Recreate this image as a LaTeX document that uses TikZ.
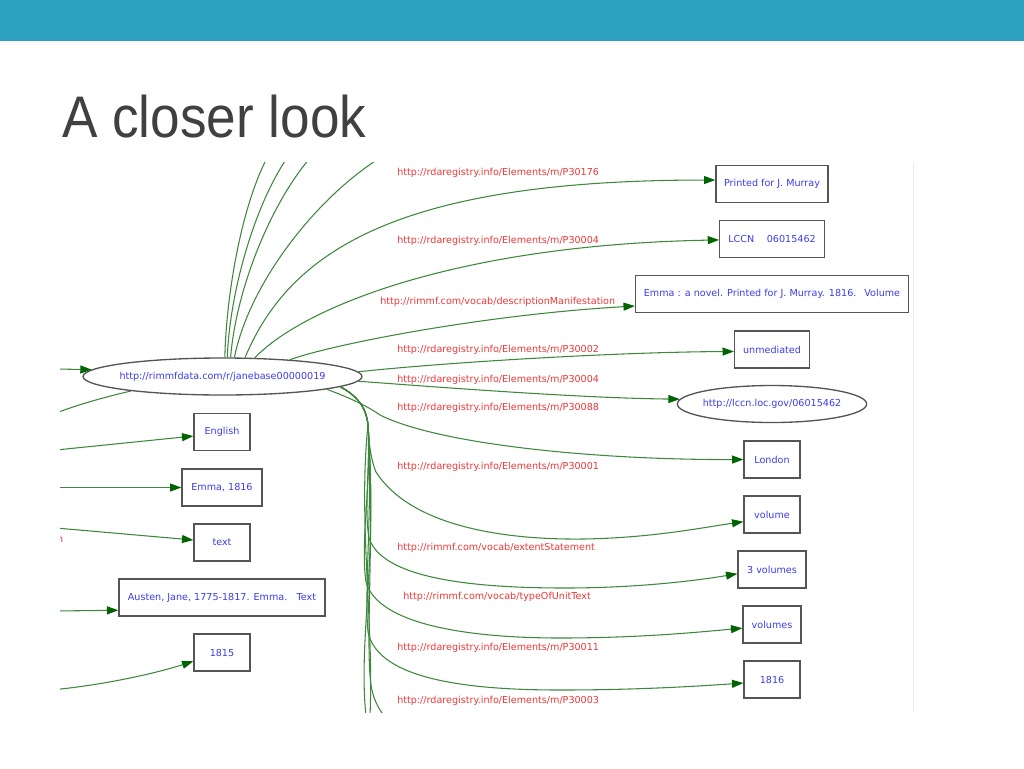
\documentclass[tikz,border=0pt]{standalone}
\usepackage{fontspec}
\newfontfamily\titlefont{Liberation Sans}
\newfontfamily\gfont{DejaVu Sans}
\usetikzlibrary{shapes.geometric,arrows.meta}
\definecolor{headbar}{RGB}{43,161,191}
\definecolor{titlegray}{RGB}{64,64,64}
\definecolor{edgegreen}{RGB}{62,136,62}
\definecolor{tipgreen}{RGB}{0,100,0}
\definecolor{nodeblue}{RGB}{60,60,235}
\definecolor{labelred}{RGB}{235,55,55}
\definecolor{bordergray}{RGB}{85,85,85}
\definecolor{framegray}{RGB}{236,236,236}
\begin{document}
\begin{tikzpicture}[x=0.75pt,y=-0.75pt,
  gtext/.style={font=\gfont\fontsize{7.2}{8}\selectfont},
  litbox/.style={gtext, draw=bordergray, line width=1pt, fill=white, rectangle, minimum height=27.75pt, inner sep=0pt, text=nodeblue},
  urinode/.style={gtext, draw=bordergray, line width=1pt, fill=white, ellipse, inner sep=0pt, minimum height=27.75pt, text=nodeblue},
  prop/.style={gtext, anchor=west, inner sep=0pt, text=labelred},
  rel/.style={draw=edgegreen, line width=0.8pt},
  relarrow/.style={rel, -{Triangle[length=8.5pt,width=6pt,color=tipgreen]}},
]
\useasboundingbox (0,0) rectangle (1024,768);
\fill[headbar] (0,0) rectangle (1024,40.5);
\node[anchor=base west, inner sep=0pt, text=titlegray] (title) at (62,137)
  {\scalebox{0.905}[1]{\titlefont\fontsize{44}{44}\selectfont A closer look}};

\begin{scope}
\clip (60,162) rectangle (913,712);
% nodes
\node[urinode, minimum width=209.25pt] (main) at (222.5,376.5) {\makebox[0pt]{http://rimmfdata.com/r/janebase00000019}};
\node[litbox, minimum width=84pt] (pr) at (772,184) {Printed for J. Murray};
\node[litbox, minimum width=78.4pt] (lccn) at (772,239) {LCCN\hspace{9.5pt}06015462};
\node[litbox, minimum width=204.75pt] (emma) at (772,294) {Emma : a novel. Printed for J. Murray. 1816.\hspace{6pt}Volume};
\node[litbox, minimum width=56.25pt] (unmed) at (772,349.5) {unmediated};
\node[urinode, minimum width=142pt] (lccnuri) at (772,404) {\makebox[0pt]{http://lccn.loc.gov/06015462}};
\node[litbox, minimum width=42pt] (london) at (772,459.5) {London};
\node[litbox, minimum width=42pt] (volume) at (772,514.5) {volume};
\node[litbox, minimum width=51pt] (threevol) at (772,569.5) {3 volumes};
\node[litbox, minimum width=43.5pt] (volumes) at (772,624.5) {volumes};
\node[litbox, minimum width=42pt] (y1816) at (772,679.5) {1816};
\node[litbox, minimum width=42pt] (english) at (222,432) {English};
\node[litbox, minimum width=60pt] (emma1816) at (222,487.5) {Emma, 1816};
\node[litbox, minimum width=42pt] (text) at (222,542.5) {text};
\node[litbox, minimum width=154.5pt] (austen) at (222,597.5) {Austen, Jane, 1775-1817. Emma.\hspace{7pt}Text};
\node[litbox, minimum width=42pt] (y1815) at (222,652.5) {1815};

% property labels
\node[prop] (p1) at (397,173) {http://rdaregistry.info/Elements/m/P30176};
\node[prop] (p2) at (397,241) {http://rdaregistry.info/Elements/m/P30004};
\node[prop] (p3) at (380,302) {http://rimmf.com/vocab/descriptionManifestation};
\node[prop] (p4) at (397,350) {http://rdaregistry.info/Elements/m/P30002};
\node[prop] (p5) at (397,380) {http://rdaregistry.info/Elements/m/P30004};
\node[prop] (p6) at (397,408) {http://rdaregistry.info/Elements/m/P30088};
\node[prop] (p7) at (397,467) {http://rdaregistry.info/Elements/m/P30001};
\node[prop] (p8) at (397,548) {http://rimmf.com/vocab/extentStatement};
\node[prop] (p9) at (403,597) {http://rimmf.com/vocab/typeOfUnitText};
\node[prop] (p10) at (397,648) {http://rdaregistry.info/Elements/m/P30011};
\node[prop] (p11) at (397,701) {http://rdaregistry.info/Elements/m/P30003};
\node[prop, anchor=east] (p12) at (63.5,540) {n};

% free ends
\coordinate (ta) at (267,158);
\coordinate (tb) at (287,158);
\coordinate (tc) at (310,158);
\coordinate (td) at (380,158);
\coordinate (bb1) at (366,716);
\coordinate (bb2) at (370,716);
\coordinate (bb3) at (384,716);
\coordinate (l0) at (56,369);
\coordinate (l1) at (56,413);
\coordinate (l2) at (56,450);
\coordinate (l3) at (56,487.5);
\coordinate (l4) at (56,528);
\coordinate (l5) at (56,611);
\coordinate (l6) at (56,689.5);

% upper edges
\draw[rel] (main.83.8) .. controls (226,300) and (240,210) .. (ta);
\draw[rel] (main.76.3) .. controls (230,290) and (255,205) .. (tb);
\draw[rel] (main.67.9) .. controls (236,290) and (270,205) .. (tc);
\draw[rel] (main.58) .. controls (250,280) and (320,195) .. (td);
\draw[relarrow] (main.40.4) .. controls (290,250) and (400,180) .. (pr.176);
\draw[relarrow] (main.30.6) .. controls (300,310) and (450,245) .. (lccn.181);
\draw[relarrow] (main.14) .. controls (330,345) and (480,315) .. (emma.185);
\draw[relarrow] (main.2.7) .. controls (450,362) and (620,352) .. (unmed.183);
\draw[relarrow] (main.-2.7) .. controls (450,388) and (580,398) .. (lccnuri.177.2);
\draw[relarrow] (main.-7.7) .. controls (345,396) and (366,405) .. (380,415)
   .. controls (440,445) and (600,460) .. (london.west);

% bundle
\draw[relarrow] (main.-5.3) .. controls (355,395) and (366,405) .. (368,425)
   .. controls (369,445) and (371,460) .. (376,472)
   .. controls (410,525) and (500,540) .. (583,539)
   .. controls (650,538) and (700,528) .. (volume.194);
\draw[relarrow] (main.-5.3) .. controls (355,395) and (366,405) .. (368,425)
   .. controls (370,470) and (364,510) .. (369,538)
   .. controls (382,578) and (470,588) .. (565,588)
   .. controls (640,588) and (700,580) .. (threevol.187.5);
\draw[relarrow] (main.-5.3) .. controls (355,395) and (366,405) .. (368,425)
   .. controls (372,480) and (360,540) .. (366,582)
   .. controls (378,625) and (470,638) .. (560,638)
   .. controls (640,638) and (700,632) .. (volumes.187);
\draw[relarrow] (main.-5.3) .. controls (355,395) and (366,405) .. (368,425)
   .. controls (373,500) and (364,590) .. (368,632)
   .. controls (378,680) and (470,690) .. (560,690)
   .. controls (640,690) and (700,686) .. (y1816.187);
\draw[rel] (main.-5.3) .. controls (355,395) and (366,405) .. (368,425)
   .. controls (375,530) and (365,640) .. (371,685)
   .. controls (373,698) and (377,706) .. (bb3);
\draw[rel] (main.-5.3) .. controls (355,395) and (366,405) .. (368,425)
   .. controls (378,560) and (358,640) .. (bb1);
\draw[rel] (main.-5.3) .. controls (355,395) and (366,405) .. (368,425)
   .. controls (358,520) and (374,620) .. (bb2);

% left edges
\draw[relarrow] (l0) -- (main.177.2);
\draw[rel] (main.189) .. controls (105,397) and (80,404) .. (l1);
\draw[relarrow] (l2) -- (english.188);
\draw[relarrow] (l3) -- (emma1816.west);
\draw[relarrow] (l4) -- (text.175);
\draw[relarrow] (l5) -- (austen.187.2);
\draw[relarrow] (l6) .. controls (110,684) and (160,672) .. (y1815.197.8);
\end{scope}
\draw[framegray, line width=0.75pt] (913,162) -- (913,712);
\end{tikzpicture}
\end{document}
